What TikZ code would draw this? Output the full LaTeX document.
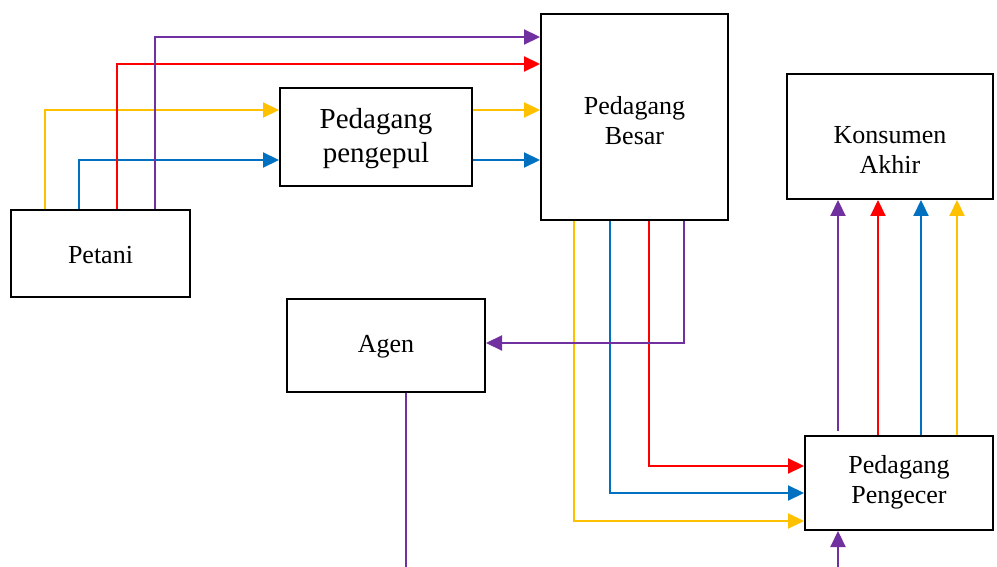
\documentclass[tikz,border=0pt]{standalone}
\usepackage{fontspec}
\setmainfont{Liberation Serif}
\usetikzlibrary{arrows.meta}
\definecolor{cpur}{HTML}{7030A0}
\definecolor{cred}{HTML}{FF0000}
\definecolor{cyel}{HTML}{FFC000}
\definecolor{cblu}{HTML}{0070C0}
\begin{document}
\begin{tikzpicture}[x=1pt,y=-1pt,
  box/.style={draw=black,line width=2pt,rectangle,inner sep=0pt},
  lbl/.style={align=center,font=\fontsize{26}{30}\selectfont,inner sep=0pt},
  conn/.style={line width=2.2pt,-{Triangle[length=16pt,width=15pt]}},
  line/.style={line width=2.2pt}]
\useasboundingbox (0,0) rectangle (997,567);
% boxes
\node[box,minimum width=179pt,minimum height=87pt] (petani) at (100.5,253.5) {};
\node[box,minimum width=192pt,minimum height=98pt] (pengepul) at (376,137) {};
\node[box,minimum width=187pt,minimum height=206pt] (besar) at (634.5,117) {};
\node[box,minimum width=206pt,minimum height=125pt] (konsumen) at (890,136.5) {};
\node[box,minimum width=198pt,minimum height=93pt] (agen) at (386,345.5) {};
\node[box,minimum width=188pt,minimum height=94pt] (pengecer) at (899,483) {};
% labels
\node[lbl] (tpetani) at (100.5,255) {Petani};
\node[lbl,font=\fontsize{29}{34}\selectfont] (tpengepul) at (376,138.5) {Pedagang\\pengepul};
\node[lbl] (tbesar) at (634.5,121) {Pedagang\\Besar};
\node[lbl] (tkonsumen) at (890,150) {Konsumen\\Akhir};
\node[lbl] (tagen) at (386,347) {Agen};
\node[lbl] (tpengecer) at (899,482) {Pedagang\\Pengecer};
% free ends at the bottom edge
\coordinate (bottomA) at (406,567);
\coordinate (bottomB) at (838,567);
% Petani -> Pengepul / Besar
\draw[conn,cyel] (petani.north -| 45,0) |- (pengepul.west |- 0,110);
\draw[conn,cblu] (petani.north -| 79,0) |- (pengepul.west |- 0,160);
\draw[conn,cred] (petani.north -| 117,0) |- (besar.west |- 0,64);
\draw[conn,cpur] (petani.north -| 155,0) |- (besar.west |- 0,37);
% Pengepul -> Besar
\draw[conn,cyel] (pengepul.east |- 0,110) -- (besar.west |- 0,110);
\draw[conn,cblu] (pengepul.east |- 0,160) -- (besar.west |- 0,160);
% Besar -> Pengecer / Agen
\draw[conn,cyel] (besar.south -| 574,0) |- (pengecer.west |- 0,521);
\draw[conn,cblu] (besar.south -| 610,0) |- (pengecer.west |- 0,493);
\draw[conn,cred] (besar.south -| 649,0) |- (pengecer.west |- 0,466);
\draw[conn,cpur] (besar.south -| 684,0) |- (agen.east |- 0,343);
% Pengecer -> Konsumen
\draw[conn,cpur] (838,431) -- (konsumen.south -| 838,0);
\draw[conn,cred] (pengecer.north -| 878,0) -- (konsumen.south -| 878,0);
\draw[conn,cblu] (pengecer.north -| 921,0) -- (konsumen.south -| 921,0);
\draw[conn,cyel] (pengecer.north -| 957,0) -- (konsumen.south -| 957,0);
% Agen down, and up into Pengecer
\draw[line,cpur] (agen.south -| 406,0) -- (bottomA);
\draw[conn,cpur] (bottomB) -- (pengecer.south -| 838,0);
\end{tikzpicture}
\end{document}
